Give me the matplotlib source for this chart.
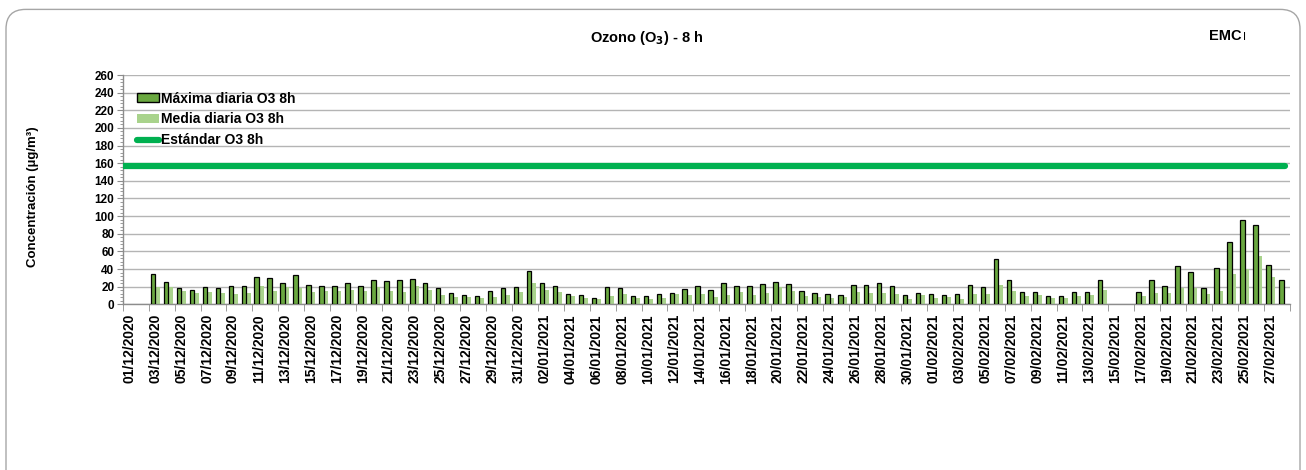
import numpy as np
import pandas as pd
import matplotlib
matplotlib.use("Agg")
import matplotlib.pyplot as plt
from matplotlib.patches import FancyBboxPatch, Patch
from matplotlib.lines import Line2D

plt.rcParams['font.family'] = ['Liberation Sans', 'DejaVu Sans']

# ---------- DATA ----------
dates = pd.date_range("2020-12-01", "2021-02-28", freq="D")
date_labels = [d.strftime("%d/%m/%Y") for d in dates]

nan = np.nan
max_daily = [nan, nan, 34.5, 25, 18.7, 16, 20, 18, 20.6, 20.2, 31.5, 29.6, 23.6, 33, 22,
             20.6, 20.6, 23.6, 20.6, 27, 26.2, 28, 29.2, 24.7, 18, 12.7, 10.5, 9.7, 14.6, 18.7,
             20, 37.9, 23.6, 20.6, 12, 10.5, 6.7, 20, 18, 9, 9, 12, 12.7, 16.9, 20.2,
             15.7, 23.6, 20.6, 20.6, 22.9, 25.1, 22.5, 15, 12.4, 11.2, 10.9, 21.4, 21.4, 23.6, 20.6,
             10.5, 12.7, 11.2, 10.5, 11.2, 21.4, 20, 51.7, 27, 14.2, 14.2, 9.7, 9.7, 14.2, 13.5,
             27.9, nan, nan, 14, 27.9, 21.1, 43.4, 36.6, 18.9, 40.8, 70.2, 95.8, 90.2, 44.2, 27.9]
mean_daily = [nan, nan, 20, 20, 15.4, 12.7, 14, 12.7, 12, 12.7, 20.6, 15.4, 19.5, 18.7, 14,
              15.4, 15.4, 16.5, 15.4, 19.5, 14.6, 13.9, 20.2, 16.1, 10.9, 8.6, 8.2, 7.1, 8.2, 10.9,
              13.5, 23.6, 15.7, 13.5, 9.4, 6.7, 5.6, 9.7, 11.6, 7.1, 6.4, 7.1, 11.6, 10.9, 12,
              8.2, 10.9, 14.2, 10.9, 12.4, 19.5, 15.4, 9.7, 8.2, 7.1, 8.2, 14.2, 12.7, 12.7, 12,
              6.4, 10.5, 7.1, 7.9, 6.4, 11.6, 11.2, 22.1, 15, 9.7, 10.5, 7.1, 7.1, 9.4, 10.5,
              15.8, nan, nan, 9, 12.5, 13.2, 18.5, 18.1, 11.7, 15.5, 34.3, 40.4, 54.3, 30.6, nan]
standard = 157

# ---------- COLORS ----------
dark_green = '#6aa840'
light_green = '#a9d38c'
std_green = '#00b050'
grid_gray = '#b4b4b4'

fig = plt.figure(figsize=(13.06, 4.70), dpi=100)

# chart border (rounded), kept behind the axes
border = FancyBboxPatch((6 / 1306, -0.2), 1294 / 1306, 1.18, boxstyle="round,pad=0,rounding_size=0.015",
                        transform=fig.transFigure, facecolor='white', edgecolor='#a6a6a6', linewidth=1.0,
                        mutation_aspect=1306 / 470, zorder=-10)
fig.patches.append(border)

ax = fig.add_axes([122.7 / 1306, 1 - 304.3 / 470, (1290 - 122.7) / 1306, (304.3 - 75) / 470])
ax.set_facecolor('none')

x = np.arange(len(dates))
w = 0.34
ax.bar(x - 0.17, max_daily, width=w, color=dark_green, edgecolor='black', linewidth=0.9, zorder=3)
ax.bar(x + 0.19, mean_daily, width=w, color=light_green, edgecolor='none', zorder=2)
ax.axhline(standard, xmin=0, xmax=0.996, color=std_green, linewidth=4.5, solid_capstyle='round', zorder=4)

ax.set_xlim(-0.5, len(dates) - 0.5)
ax.set_ylim(0, 260)

# y axis
ax.set_yticks(np.arange(0, 261, 20))
ax.set_yticks(np.arange(0, 261, 4), minor=True)
ax.tick_params(axis='y', which='major', length=4, color='#8c8c8c', labelsize=8.5, pad=2)
ax.tick_params(axis='y', which='minor', length=2, color='#8c8c8c')
for lbl in ax.get_yticklabels():
    lbl.set_fontweight('bold')
ax.yaxis.grid(True, which='major', color=grid_gray, linewidth=1.0, zorder=0)

# x axis: labels every 2 days at category centers, tick marks at boundaries
ax.set_xticks(x[::2])
ax.set_xticklabels(date_labels[::2], rotation=90, fontsize=10, fontweight='bold')
ax.set_xticks(np.arange(-0.5, len(dates), 2), minor=True)
ax.tick_params(axis='x', which='major', length=0, pad=7)
ax.tick_params(axis='x', which='minor', length=5, color='#8c8c8c')

for side in ['top', 'right']:
    ax.spines[side].set_visible(False)
for side in ['left', 'bottom']:
    ax.spines[side].set_color('#8c8c8c')
    ax.spines[side].set_linewidth(1.0)

ax.set_ylabel('Concentración (µg/m³)', fontsize=9.5, fontweight='bold', labelpad=35)
ax.yaxis.set_label_coords(-0.072, 0.47)

# legend
handles = [Patch(facecolor=dark_green, edgecolor='black', linewidth=1.0),
           Patch(facecolor=light_green, edgecolor='none'),
           Line2D([0], [0], color=std_green, linewidth=4.5, solid_capstyle='round')]
labels = ['Máxima diaria O3 8h', 'Media diaria O3 8h', 'Estándar O3 8h']
leg = ax.legend(handles, labels, loc='upper left', bbox_to_anchor=(0.012, 0.928), frameon=False,
                fontsize=10, handlelength=1.6, handleheight=0.55, handletextpad=0.15,
                labelspacing=0.5, borderpad=0, borderaxespad=0)
for t in leg.get_texts():
    t.set_fontweight('bold')

# titles
fig.text(647 / 1306, 1 - 38 / 470, 'Ozono (O$_\\mathbf{3}$) - 8 h', ha='center', va='center',
         fontsize=10.5, fontweight='bold')
fig.text(1209 / 1306, 1 - 36 / 470, 'EMC', ha='left', va='center', fontsize=10.5, fontweight='bold')
fig.text(1243 / 1306, 1 - 37 / 470, 'I', ha='left', va='center', fontsize=8)

fig.savefig('out.png', dpi=100)
